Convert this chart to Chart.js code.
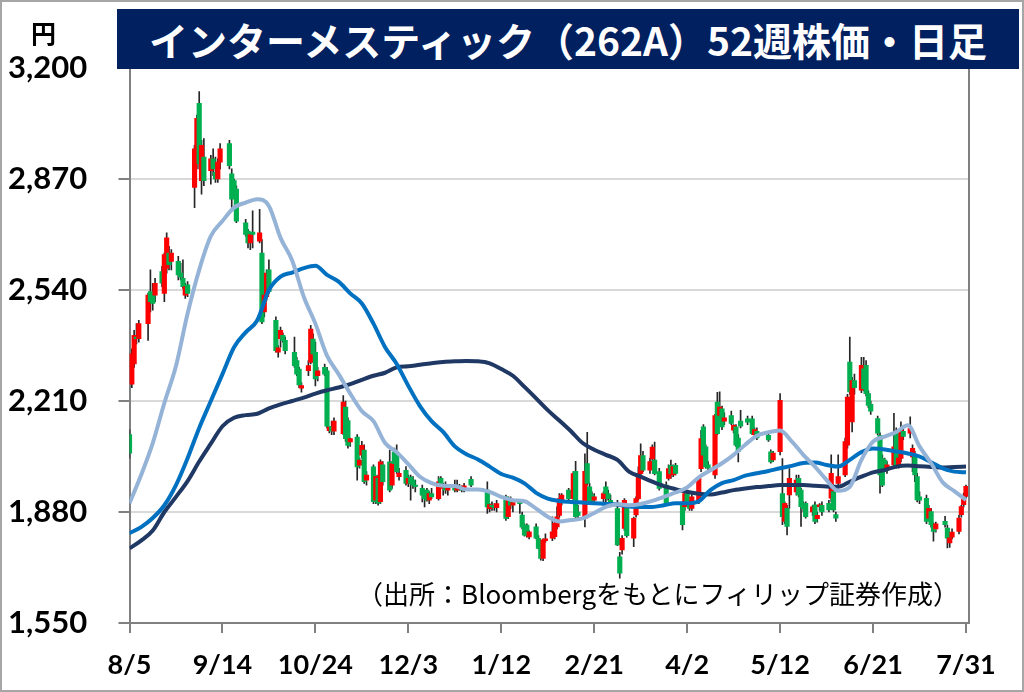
<!DOCTYPE html>
<html lang="ja">
<head>
<meta charset="utf-8">
<title>インターメスティック（262A）52週株価・日足</title>
<script src="https://cdn.jsdelivr.net/npm/chart.js@4.4.1/dist/chart.umd.min.js"></script>
<style>
  html, body { margin: 0; padding: 0; background: #fff; }
  #frame { position: relative; width: 1024px; height: 692px; overflow: hidden; background: #fff; }
  #chart { position: absolute; left: 0; top: 0; }
  #edge { position: absolute; left: 0; top: 0; width: 1024px; height: 692px; box-sizing: border-box;
          border: 2px solid #a6a6a6; pointer-events: none; }
  #title { position: absolute; left: 117px; top: 9px; width: 902px; height: 60px; background: #002060;
           color: #fff; font: bold 39px "Noto Sans CJK JP", sans-serif; line-height: 60px; text-align: center;
           white-space: nowrap; }
  #unit { position: absolute; left: 31px; top: 14px; font: bold 25px "Noto Sans CJK JP", sans-serif; }
  #source { position: absolute; right: 65px; top: 574px; font: 26px "Noto Sans CJK JP", sans-serif;
            white-space: nowrap; }
</style>
</head>
<body>
<div id="frame">
  <canvas id="chart" width="1024" height="692"></canvas>
  <div id="title">インターメスティック（262A）52週株価・日足</div>
  <div id="unit">円</div>
  <div id="source">（出所：Bloombergをもとにフィリップ証券作成）</div>
  <div id="edge"></div>
</div>
<script>
// days counted from 2024-08-05, one entry per trading day
const tradeDays = [
  0, 1, 2, 3, 4, 8, 9, 10, 11, 14, 15, 16, 17, 18, 21, 22, 23, 24, 25,
  28, 29, 30, 31, 32, 35, 36, 37, 38, 39, 43, 44, 45, 46, 50, 51, 52, 53, 56,
  57, 58, 59, 60, 63, 64, 65, 66, 67, 71, 72, 73, 74, 77, 78, 79, 80, 81, 84, 85, 86, 87,
  88, 92, 93, 94, 95, 98, 99, 100, 101, 102, 105, 106, 107, 108, 109, 112, 113, 114, 115, 116,
  119, 120, 121, 122, 123, 126, 127, 128, 129, 130, 133, 134, 135, 136, 137, 140, 141, 142, 143, 144, 147,
  154, 155, 156, 157, 158, 162, 163, 164, 165, 168, 169, 170, 171, 172, 175, 176, 177, 178, 179,
  182, 183, 184, 185, 186, 189, 191, 192, 193, 196, 197, 198, 199, 200, 204, 205, 206, 207,
  210, 211, 212, 213, 214, 217, 218, 219, 220, 221, 224, 225, 226, 228, 231, 232, 233, 234, 235, 238,
  239, 240, 241, 242, 245, 246, 247, 248, 249, 252, 253, 254, 255, 256, 259, 260, 261, 262, 263, 266, 268,
  269, 270, 275, 276, 277, 280, 281, 282, 283, 284, 287, 288, 289, 290, 291, 294, 295, 296, 297, 298,
  301, 302, 303, 304, 305, 308, 309, 310, 311, 312, 315, 316, 317, 318, 319, 322, 323, 324, 325, 326, 329,
  330, 331, 332, 333, 336, 337, 338, 339, 340, 343, 344, 345, 346, 347, 351, 352, 353, 354, 357, 358, 359, 360
];

const opens = [
  2110, 2260, 2320, 2400, 2395, 2440, 2535, 2530, 2525, 2595, 2530, 2605, 2650, 2625, 2625, 2590, 2575, 2525, 2555,
  2845, 2915, 3095, 2865, 2935, 2895, 2930, 2890, 2870, 2920, 2975, 2885, 2865, 2840, 2740, 2715, 2680, 2712, 2685,
  2650, 2475, 2520, 2600, 2450, 2355, 2395, 2405, 2390, 2355, 2330, 2305, 2248, 2300, 2325, 2394, 2355, 2285, 2310, 2300, 2122, 2135,
  2120, 2113, 2192, 2152, 2088, 2103, 2019, 2049, 2064, 1975, 2014, 1915, 1980, 1911, 2020, 2029, 1960, 2058, 2058, 1985,
  2004, 1965, 1984, 1975, 1960, 1950, 1940, 1945, 1915, 1935, 1920, 1980, 1950, 1960, 1945, 1960, 1945, 1955, 1950, 1948, 1977,
  1945, 1890, 1900, 1898, 1893, 1925, 1866, 1915, 1900, 1910, 1871, 1840, 1841, 1806, 1836, 1802, 1770, 1742, 1795,
  1802, 1807, 1836, 1870, 1915, 1945, 1920, 2001, 1880, 1861, 2024, 1955, 1930, 1915, 1920, 1955, 1935, 1915,
  1890, 1747, 1767, 1831, 1890, 1802, 1871, 1920, 1994, 2048, 2004, 2038, 2034, 2000, 1960, 1980, 2019, 1990, 2019, 1901,
  1896, 1935, 1906, 1891, 1911, 2009, 2133, 2074, 2020, 1990, 2207, 2167, 2187, 2150, 2167, 2123, 2133, 2100, 2150, 2157, 2157,
  2110, 2120, 2108, 2059, 2035, 2059, 1935, 1852, 1891, 1931, 1940, 1980, 1945, 1900, 1906, 1880, 1901, 1860, 1896, 1900,
  1906, 1921, 1941, 1872, 1965, 1990, 2079, 2326, 2148, 2271, 2242, 2306, 2316, 2232, 2200, 2158, 2108, 2039, 2034, 2005, 2020,
  2114, 2020, 2039, 2120, 2114, 2044, 2049, 1985, 1925, 1921, 1862, 1881, 1842, 1830, 1852, 1832, 1788, 1805, 1822, 1872, 1902, 1926
];

const highs = [
  2125, 2365, 2420, 2440, 2450, 2530, 2600, 2560, 2575, 2610, 2650, 2710, 2670, 2660, 2640, 2620, 2630, 2560, 2565,
  2970, 3060, 3130, 2985, 2990, 2940, 2960, 2935, 2930, 2975, 2985, 2900, 2870, 2850, 2750, 2720, 2710, 2775, 2780,
  2690, 2540, 2600, 2630, 2460, 2375, 2430, 2412, 2400, 2400, 2340, 2310, 2265, 2330, 2435, 2410, 2385, 2310, 2320, 2310, 2135, 2150,
  2160, 2226, 2210, 2160, 2100, 2110, 2040, 2090, 2080, 2000, 2020, 1990, 1990, 2035, 2030, 2064, 2030, 2070, 2080, 2010,
  2015, 1990, 1990, 1985, 1975, 1960, 1945, 1950, 1940, 1950, 1985, 1985, 1965, 1970, 1960, 1975, 1975, 1962, 1958, 1965, 1985,
  1970, 1905, 1910, 1905, 1915, 1930, 1925, 1925, 1912, 1915, 1880, 1845, 1845, 1825, 1845, 1810, 1775, 1800, 1815,
  1866, 1850, 1895, 1935, 1935, 1950, 2000, 2031, 1900, 2053, 2117, 1965, 1940, 1935, 1940, 1970, 1945, 1930,
  1915, 1760, 1810, 1920, 1895, 1865, 1925, 2014, 2083, 2060, 2040, 2080, 2088, 2010, 1970, 2020, 2034, 2020, 2025, 1910,
  1940, 1945, 1915, 1935, 1985, 2123, 2140, 2080, 2030, 2170, 2236, 2237, 2195, 2175, 2180, 2140, 2140, 2110, 2182, 2165, 2165,
  2130, 2130, 2115, 2065, 2060, 2232, 2039, 1910, 1900, 2009, 1990, 1990, 1950, 1910, 1910, 1900, 1910, 1880, 1905, 1910,
  1915, 2050, 1960, 1880, 2050, 2100, 2230, 2400, 2280, 2290, 2340, 2340, 2330, 2240, 2210, 2165, 2115, 2050, 2040, 2030, 2173,
  2130, 2045, 2148, 2130, 2163, 2080, 2060, 1995, 1940, 1930, 1900, 1890, 1848, 1850, 1867, 1840, 1810, 1830, 1870, 1900, 1936, 1960
];

const lows = [
  2040, 2250, 2310, 2380, 2385, 2390, 2475, 2480, 2505, 2550, 2505, 2590, 2600, 2600, 2570, 2570, 2545, 2515, 2520,
  2785, 2900, 2900, 2825, 2850, 2855, 2880, 2860, 2860, 2900, 2900, 2785, 2815, 2740, 2700, 2665, 2660, 2665, 2680,
  2440, 2460, 2510, 2530, 2355, 2340, 2370, 2385, 2350, 2310, 2285, 2250, 2236, 2285, 2320, 2345, 2255, 2270, 2285, 2130, 2115, 2110,
  2110, 2110, 2090, 2070, 2075, 1975, 2010, 2040, 1965, 1960, 1905, 1905, 1900, 1905, 1960, 1940, 1950, 2020, 1995, 1975,
  1960, 1955, 1915, 1950, 1940, 1910, 1895, 1912, 1905, 1920, 1915, 1955, 1930, 1935, 1930, 1940, 1940, 1945, 1940, 1940, 1955,
  1876, 1880, 1885, 1885, 1880, 1855, 1860, 1890, 1880, 1876, 1830, 1808, 1805, 1800, 1800, 1770, 1737, 1735, 1790,
  1795, 1800, 1830, 1865, 1900, 1915, 1915, 1860, 1860, 1836, 1960, 1905, 1905, 1905, 1910, 1910, 1915, 1895,
  1780, 1683, 1755, 1825, 1805, 1777, 1865, 1915, 1985, 2000, 1995, 2030, 1990, 1945, 1900, 1975, 1980, 1985, 1990, 1827,
  1885, 1900, 1885, 1885, 1905, 2000, 2045, 2010, 2000, 1980, 2110, 2160, 2125, 2140, 2140, 2115, 2075, 2029, 2130, 2140, 2110,
  2100, 2095, 2090, 2025, 2030, 2050, 1842, 1845, 1812, 1891, 1930, 1925, 1837, 1880, 1862, 1870, 1845, 1850, 1885, 1870,
  1880, 1910, 1880, 1852, 1955, 1985, 2070, 2230, 2118, 2230, 2235, 2240, 2225, 2190, 2170, 2110, 1936, 1955, 2000, 1995, 2010,
  2010, 2010, 2030, 2095, 2100, 2000, 1970, 1910, 1905, 1845, 1855, 1835, 1793, 1820, 1835, 1773, 1775, 1800, 1815, 1865, 1895, 1920
];

const closes = [
  2055, 2350, 2405, 2395, 2440, 2525, 2505, 2500, 2560, 2560, 2645, 2695, 2615, 2650, 2585, 2578, 2550, 2550, 2530,
  2960, 3050, 2915, 2970, 2865, 2930, 2900, 2870, 2920, 2960, 2910, 2810, 2825, 2745, 2705, 2680, 2705, 2705, 2710,
  2445, 2525, 2590, 2535, 2360, 2368, 2420, 2390, 2360, 2315, 2290, 2258, 2256, 2315, 2424, 2350, 2276, 2300, 2290, 2135, 2132, 2120,
  2150, 2207, 2098, 2078, 2098, 2014, 2034, 2078, 1970, 1990, 1911, 1985, 1906, 2029, 1970, 1945, 2024, 2024, 2000, 1995,
  1965, 1980, 1965, 1960, 1955, 1930, 1920, 1915, 1935, 1925, 1970, 1960, 1960, 1945, 1950, 1945, 1955, 1950, 1945, 1958, 1960,
  1895, 1902, 1895, 1893, 1905, 1861, 1920, 1900, 1908, 1905, 1835, 1811, 1811, 1821, 1802, 1772, 1742, 1797, 1800,
  1821, 1846, 1866, 1920, 1930, 1920, 1994, 1866, 1870, 2001, 1965, 1910, 1910, 1925, 1935, 1935, 1920, 1900,
  1782, 1698, 1802, 1915, 1810, 1861, 1920, 1994, 2048, 2004, 2030, 2073, 1994, 1950, 1905, 2009, 1994, 2015, 1995, 1842,
  1935, 1910, 1891, 1925, 1980, 2098, 2049, 2014, 2010, 2167, 2113, 2192, 2133, 2160, 2143, 2138, 2079, 2060, 2135, 2147, 2113,
  2125, 2100, 2094, 2029, 2055, 2212, 1866, 1906, 1837, 1980, 1975, 1931, 1896, 1890, 1866, 1895, 1852, 1870, 1901, 1880,
  1886, 1995, 1886, 1862, 1985, 2089, 2222, 2237, 2271, 2250, 2316, 2247, 2232, 2197, 2180, 2114, 1990, 1960, 2005, 2020, 2074,
  2015, 2040, 2123, 2105, 2128, 2069, 1990, 1916, 1915, 1852, 1891, 1842, 1822, 1845, 1842, 1802, 1803, 1820, 1862, 1896, 1921, 1956
];

// moving averages read every 5 calendar days
const maDays = [
  0, 5, 10, 15, 20, 25, 30, 35, 40, 45, 50, 55, 60, 65, 70, 75, 80, 85, 90, 95,
  100, 105, 110, 115, 120, 125, 130, 135, 140, 145, 150, 155, 160, 165, 170, 175, 180, 185, 190, 195,
  200, 205, 210, 215, 220, 225, 230, 235, 240, 245, 250, 255, 260, 265, 270, 275, 280, 285, 290, 295,
  300, 305, 310, 315, 320, 325, 330, 335, 340, 345, 350, 355, 360
];
const shortMA = [
  1906, 1990, 2085, 2204, 2314, 2470, 2600, 2700, 2745, 2785, 2800, 2810, 2790, 2695, 2628, 2520, 2440, 2345, 2290, 2232,
  2180, 2150, 2085, 2058, 2022, 1985, 1966, 1958, 1957, 1947, 1947, 1940, 1925, 1915, 1912, 1890, 1866, 1852, 1856, 1861,
  1877, 1895, 1903, 1900, 1904, 1913, 1925, 1938, 1953, 1983, 2004, 2025, 2050, 2080, 2107, 2117, 2122, 2090, 2050, 2015,
  1975, 1943, 1955, 2035, 2089, 2104, 2118, 2138, 2075, 2025, 1968, 1942, 1916
];
const midMA = [
  1817, 1835, 1862, 1900, 1960, 2040, 2130, 2210, 2290, 2370, 2414, 2450, 2540, 2580, 2592, 2605, 2612, 2585, 2565, 2530,
  2500, 2440, 2370, 2320, 2255, 2195, 2150, 2118, 2075, 2052, 2036, 2015, 1993, 1982, 1965, 1937, 1920, 1913, 1910, 1908,
  1906, 1904, 1902, 1896, 1895, 1895, 1900, 1906, 1906, 1912, 1945, 1966, 1975, 1988, 1995, 2002, 2010, 2017, 2026, 2027,
  2020, 2015, 2035, 2058, 2069, 2066, 2060, 2054, 2045, 2028, 2010, 2000, 1998
];
const longMA = [
  1772, 1795, 1825, 1880, 1925, 1972, 2030, 2083, 2135, 2160, 2168, 2172, 2188, 2200, 2210, 2220, 2232, 2242, 2250, 2260,
  2273, 2285, 2294, 2310, 2313, 2318, 2322, 2326, 2328, 2329, 2328, 2322, 2305, 2285, 2252, 2218, 2183, 2152, 2120, 2085,
  2065, 2050, 2035, 2000, 1985, 1970, 1957, 1948, 1940, 1934, 1932, 1938, 1945, 1950, 1954, 1957, 1960, 1960, 1960, 1958,
  1956, 1955, 1970, 1985, 1998, 2005, 2015, 2018, 2016, 2014, 2012, 2014, 2015
];

const xTickDays = [0, 40, 80, 120, 160, 200, 240, 280, 320, 360];
const xTickLabels = ['8/5', '9/14', '10/24', '12/3', '1/12', '2/21', '4/2', '5/12', '6/21', '7/31'];

const UP = '#FF0000';
const DOWN = '#00B050';
const AXIS = '#808080';

const bodies = tradeDays.map((d, i) => ({ x: d, y: [opens[i], closes[i]] }));
const wicks = tradeDays.map((d, i) => ({ x: d, y: [lows[i], highs[i]] }));
const bodyColors = tradeDays.map((d, i) => (closes[i] >= opens[i] ? UP : DOWN));
const maLine = (values) => maDays.map((d, i) => ({ x: d, y: values[i] }));

// right-hand frame of the plot area
const plotFrame = {
  id: 'plotFrame',
  afterDraw(chart) {
    const { ctx, chartArea: a } = chart;
    ctx.save();
    ctx.strokeStyle = AXIS;
    ctx.lineWidth = 2;
    ctx.beginPath();
    ctx.moveTo(a.right, a.top);
    ctx.lineTo(a.right, a.bottom);
    ctx.stroke();
    ctx.restore();
  }
};

new Chart(document.getElementById('chart'), {
  type: 'bar',
  data: {
    datasets: [
      { type: 'line', data: maLine(shortMA), borderColor: '#95B3D7', borderWidth: 4, pointRadius: 0,
        cubicInterpolationMode: 'monotone', order: 0 },
      { type: 'line', data: maLine(midMA), borderColor: '#0070C0', borderWidth: 4, pointRadius: 0,
        cubicInterpolationMode: 'monotone', order: 1 },
      { type: 'line', data: maLine(longMA), borderColor: '#1F3864', borderWidth: 4, pointRadius: 0,
        cubicInterpolationMode: 'monotone', order: 2 },
      { data: bodies, backgroundColor: bodyColors, barThickness: 4.5, minBarLength: 1, stack: 'candle', order: 3 },
      { data: wicks, backgroundColor: '#262626', barThickness: 1, stack: 'candle', order: 4 }
    ]
  },
  options: {
    responsive: false,
    animation: false,
    layout: { padding: { left: 8, right: 55, top: 68, bottom: 0 } },
    plugins: { legend: { display: false }, tooltip: { enabled: false } },
    scales: {
      x: {
        type: 'linear',
        min: 0,
        max: 361.3,
        offset: false,
        afterBuildTicks: (scale) => { scale.ticks = xTickDays.map((v) => ({ value: v })); },
        afterFit: (scale) => { scale.height = 69; },
        ticks: {
          callback: (value, index) => xTickLabels[index],
          font: { family: 'Lato', size: 27, weight: 'bold' },
          color: '#000',
          padding: 16,
          maxRotation: 0,
          autoSkip: false
        },
        grid: { drawOnChartArea: false, tickLength: 10, color: AXIS, lineWidth: 2, offset: false },
        border: { color: AXIS, width: 2 }
      },
      y: {
        min: 1550,
        max: 3200,
        stacked: false,
        afterFit: (scale) => { scale.width = 121.5; },
        ticks: {
          stepSize: 330,
          callback: (value) => value.toLocaleString('en-US'),
          font: { family: 'Lato', size: 31, weight: 'bold' },
          color: '#000',
          crossAlign: 'far'
        },
        grid: { color: '#D9D9D9', lineWidth: 2, tickLength: 11, tickColor: AXIS, tickWidth: 2 },
        border: { color: AXIS, width: 2 }
      }
    }
  },
  plugins: [plotFrame]
});
</script>
</body>
</html>
